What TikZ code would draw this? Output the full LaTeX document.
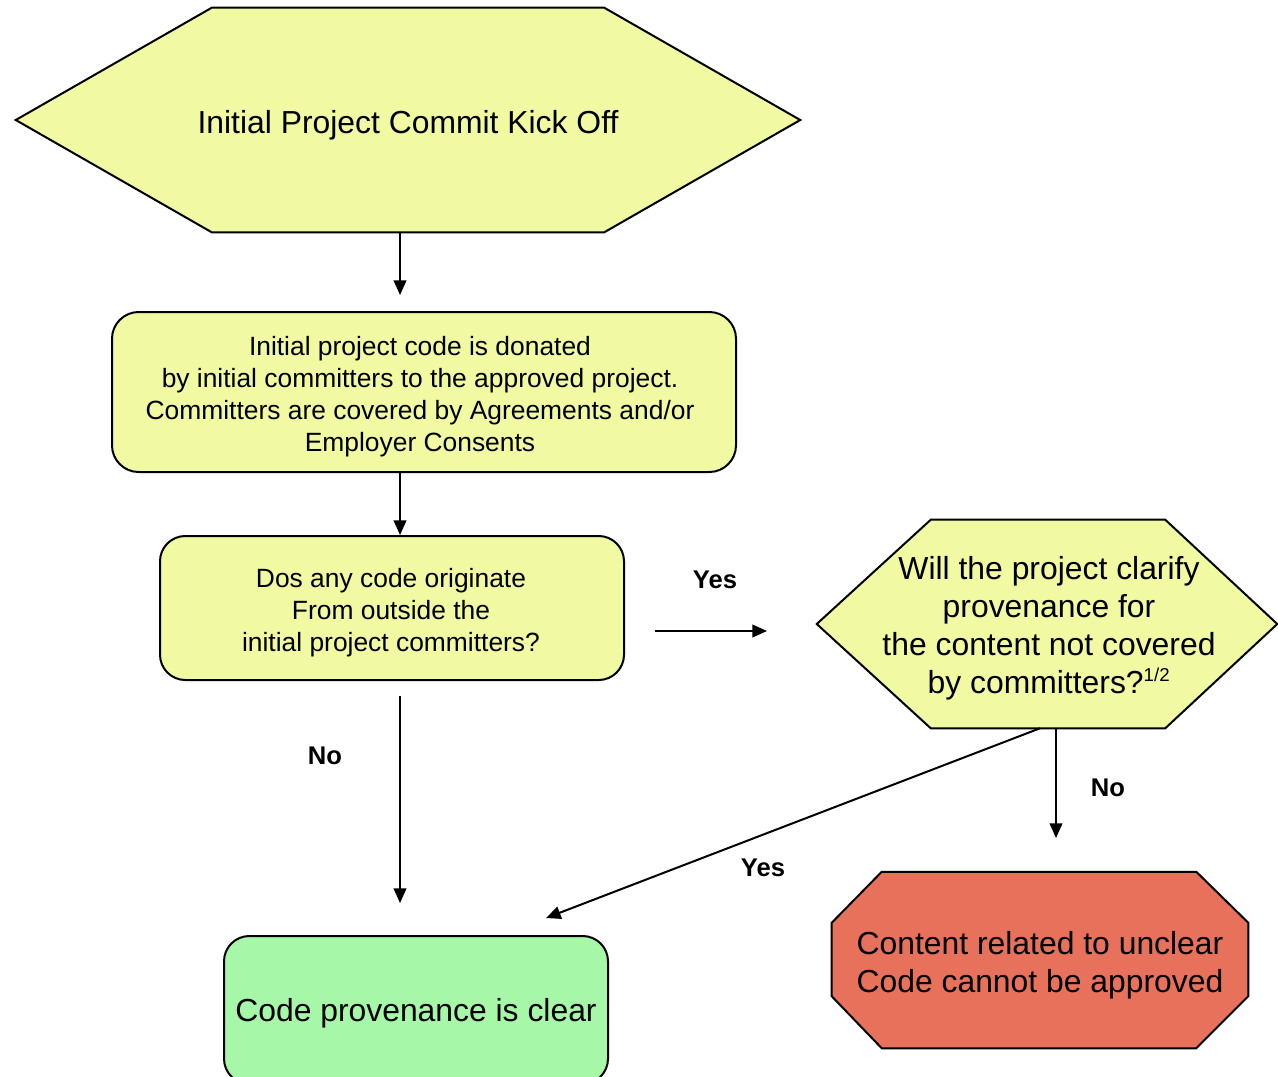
\documentclass[tikz,border=0pt]{standalone}
\usepackage{fontspec}
\setmainfont{Liberation Sans}
\usetikzlibrary{arrows.meta,calc,backgrounds}
\definecolor{yfill}{HTML}{F1F9A3}
\definecolor{gfill}{HTML}{A6F8A8}
\definecolor{rfill}{HTML}{E8715B}
\begin{document}
\begin{tikzpicture}[x=0.75pt,y=-0.75pt,
  shapeline/.style={draw=black,line width=1.5pt},
  ybox/.style={shapeline,fill=yfill,rounded corners=20pt,inner sep=0pt},
  bigtxt/.style={font=\fontsize{23.9}{28.5}\selectfont,align=center,inner sep=0pt},
  midtxt/.style={font=\fontsize{19.8}{24}\selectfont,align=center,inner sep=0pt},
  lbl/.style={font=\fontsize{19.2}{23}\selectfont\bfseries,inner sep=0pt},
  arr/.style={-{Triangle[length=11pt,width=9.5pt]},line width=1.5pt},
  frame/.style={inner sep=0pt}]
\useasboundingbox (0,0) rectangle (1278,1076);

% shape nodes
\node[frame,minimum width=588pt,minimum height=168pt] (kick) at (408,120) {};
\node[ybox,minimum width=468pt,minimum height=120pt] (dona) at (424,392) {};
\node[ybox,minimum width=348pt,minimum height=108pt,rounded corners=19pt] (orig) at (392,608) {};
\node[frame,minimum width=346.5pt,minimum height=156pt] (will) at (1047,624) {};
\node[shapeline,fill=gfill,rounded corners=19pt,minimum width=288pt,minimum height=111pt,inner sep=0pt] (clear) at (416,1010) {};
\node[frame,minimum width=312pt,minimum height=132pt] (rej) at (1040,960) {};

% polygon outlines
\begin{scope}[on background layer]
\path[shapeline,fill=yfill] (kick.west) -- ($(kick.north west)+(196,0)$) -- ($(kick.north east)+(-196,0)$)
  -- (kick.east) -- ($(kick.south east)+(-196,0)$) -- ($(kick.south west)+(196,0)$) -- cycle;
\path[shapeline,fill=yfill] ($(will.west)+(1,0)$) -- ($(will.north west)+(115,0)$) -- ($(will.north east)+(-113,0)$)
  -- ($(will.east)+(-1,0)$) -- ($(will.south east)+(-113,0)$) -- ($(will.south west)+(115,0)$) -- cycle;
\path[shapeline,fill=rfill] ($(rej.north west)+(50,0)$) -- ($(rej.north east)+(-52,0)$) -- ($(rej.north east)+(0,51)$)
  -- ($(rej.south east)+(0,-52)$) -- ($(rej.south east)+(-52,0)$) -- ($(rej.south west)+(50,0)$)
  -- ($(rej.south west)+(0,-52)$) -- ($(rej.north west)+(0,51)$) -- cycle;
\end{scope}

% texts
\node[bigtxt] (kick-t) at ($(kick.center)+(0,5)$) {Initial Project Commit Kick Off};
\node[midtxt] (dona-t) at ($(dona.center)+(-4,5)$)
  {Initial project code is donated\\by initial committers to the approved project.\\Committers are covered by Agreements and/or\\Employer Consents};
\node[midtxt] (orig-t) at ($(orig.center)+(-1,5)$)
  {Dos any code originate\\From outside the\\initial project committers?};
\node[bigtxt] (will-t) at ($(will.center)+(2,4)$)
  {Will the project clarify\\provenance for\\the content not covered\\by committers?\textsuperscript{\fontsize{14}{14}\selectfont 1/2}};
\node[bigtxt] (clear-t) at ($(clear.center)+(0,3)$) {Code provenance is clear};
\node[bigtxt] (rej-t) at ($(rej.center)+(0,5)$)
  {Content related to unclear\\Code cannot be approved};

% free ends of connectors
\coordinate (e1) at (400,295);
\coordinate (s3) at (655,631);
\coordinate (e3) at (767,631);
\coordinate (s4) at (400,696);
\coordinate (e4) at (400,903);
\coordinate (e5) at (546,918);
\coordinate (e6) at (1056,838);

% connectors
\draw[arr] ($(kick.south)+(-8,0)$) -- (e1);
\draw[arr] ($(dona.south)+(-24,0)$) -- ($(orig.north)+(8,0)$);
\draw[arr] (s3) -- (e3);
\draw[arr] (s4) -- (e4);
\draw[arr] ($(will.south)+(-7,0)$) -- (e5);
\draw[arr] ($(will.south)+(9,0)$) -- (e6);

% labels
\node[lbl] (yes1) at (715,580) {Yes};
\node[lbl] (no1) at (325,756) {No};
\node[lbl] (yes2) at (763,868) {Yes};
\node[lbl] (no2) at (1108,788) {No};
\end{tikzpicture}
\end{document}
